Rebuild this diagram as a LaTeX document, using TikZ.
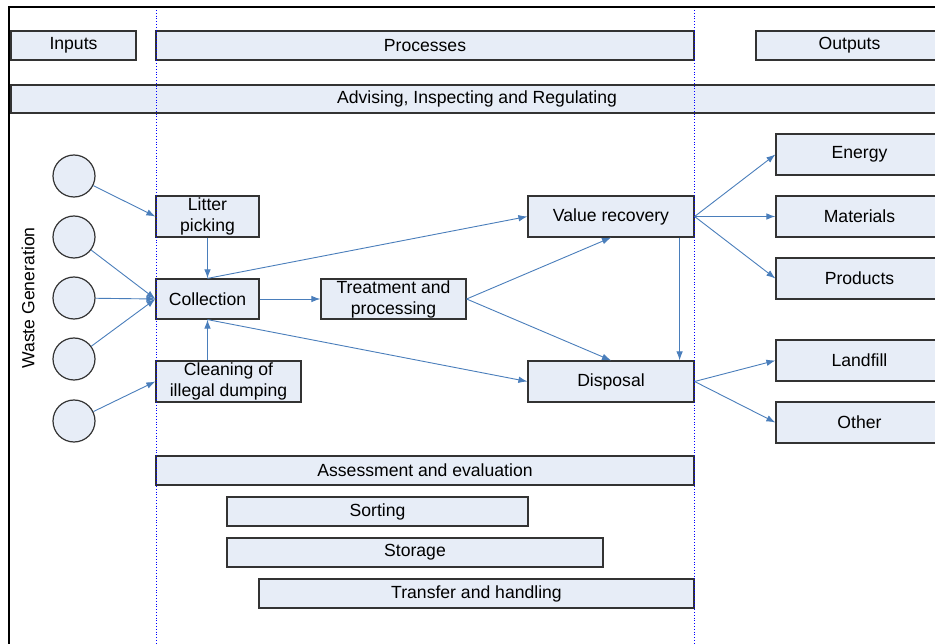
\documentclass[tikz,border=0pt]{standalone}
\usepackage{fontspec}
\setmainfont{Liberation Sans}
\usetikzlibrary{positioning, arrows.meta}
\definecolor{boxfill}{RGB}{231,237,247}
\definecolor{arrowblue}{RGB}{74,126,187}

\begin{document}
\begin{tikzpicture}[x=1pt, y=-1pt,
    every node/.style={font=\fontsize{17.6}{21}\selectfont, inner sep=0pt, align=center},
    stage/.style={draw=black!80, fill=boxfill, line width=1.2pt},
    band/.style={stage, minimum height=29pt},
    source/.style={circle, draw=black!80, fill=boxfill, line width=1.2pt, minimum size=42pt},
    flow/.style={-{Latex[length=9pt,width=6.5pt]}, draw=arrowblue, line width=.9pt}]

    \useasboundingbox (0,0) rectangle (935,644);

    % frame
    \draw[line width=2.2pt] (9,644) -- (9,7) -- (936,7);

    % headings
    \node[band, minimum width=125pt] (A) at (73.5,45.5) {Inputs};
    \node[band, minimum width=538pt] (B) at (425,45.5) {Processes};
    \node[band, minimum width=187pt] (C) at (849.5,45.5) {Outputs};
    \node[band, minimum width=932pt, minimum height=28pt] (D) at (477,99) {Advising, Inspecting and Regulating};

    % sources
    \node[rotate=90] (W) at (28,298) {Waste Generation};
    \foreach \y [count=\i] in {176,237,298,359,421}
        \node[source] (S\i) at (74,\y) {};

    % processes
    \node[stage, minimum width=103pt, minimum height=41pt] (L) at (207.5,216.5) {Litter\\picking};
    \node[stage, minimum width=103pt, minimum height=40pt] (K) at (207.5,299) {Collection};
    \node[stage, minimum width=145pt, minimum height=41pt] (M) at (228.5,381.5) {Cleaning of\\illegal dumping};
    \node[stage, minimum width=145pt, minimum height=40pt] (T) at (393.5,299) {Treatment and\\processing};
    \node[stage, minimum width=166pt, minimum height=41pt] (V) at (611,216.5) {Value recovery};
    \node[stage, minimum width=166pt, minimum height=41pt] (P) at (611,381.5) {Disposal};

    % outputs
    \node[stage, minimum width=167pt, minimum height=41pt] (E) at (859.5,154.5) {Energy};
    \node[stage, minimum width=167pt, minimum height=41pt] (F) at (859.5,216.5) {Materials};
    \node[stage, minimum width=167pt, minimum height=41pt] (G) at (859.5,278.5) {Products};
    \node[stage, minimum width=167pt, minimum height=41pt] (H) at (859.5,360.5) {Landfill};
    \node[stage, minimum width=167pt, minimum height=41pt] (I) at (859.5,422.5) {Other};

    % support activities
    \node[band, minimum width=538pt] (N) at (425,470.5) {Assessment and evaluation};
    \node[band, minimum width=301pt] (Q) at (377.5,511.5) {Sorting};
    \node[band, minimum width=376pt] (R) at (415,552.5) {Storage};
    \node[band, minimum width=435pt] (U) at (476.5,593.5) {Transfer and handling};

    % flows
    \draw[flow] (S1) -- (L.west);
    \foreach \i in {2,3,4}
        \draw[flow] (S\i) -- (K.west);
    \draw[flow] (S5) -- (M.west);

    \draw[flow] (L.south) -- (K.north);
    \draw[flow] (K.south |- M.north) -- (K.south);
    \draw[flow] (K.north) -- (V.west);
    \draw[flow] (K.east) -- (T.west);
    \draw[flow] (K.south) -- (P.west);
    \draw[flow] (T.east) -- (V.south);
    \draw[flow] (T.east) -- (P.north);
    \draw[flow] ([xshift=-15pt]V.south east) -- ([xshift=-15pt]P.north east);

    \draw[flow] (V.east) -- (E.west);
    \draw[flow] (V.east) -- (F.west);
    \draw[flow] (V.east) -- (G.west);
    \draw[flow] (P.east) -- (H.west);
    \draw[flow] (P.east) -- (I.west);

    % column borders
    \draw[blue, dotted, line width=.8pt] (156,10) -- (156,644);
    \draw[blue, dotted, line width=.8pt] (694,10) -- (694,644);
\end{tikzpicture}
\end{document}
